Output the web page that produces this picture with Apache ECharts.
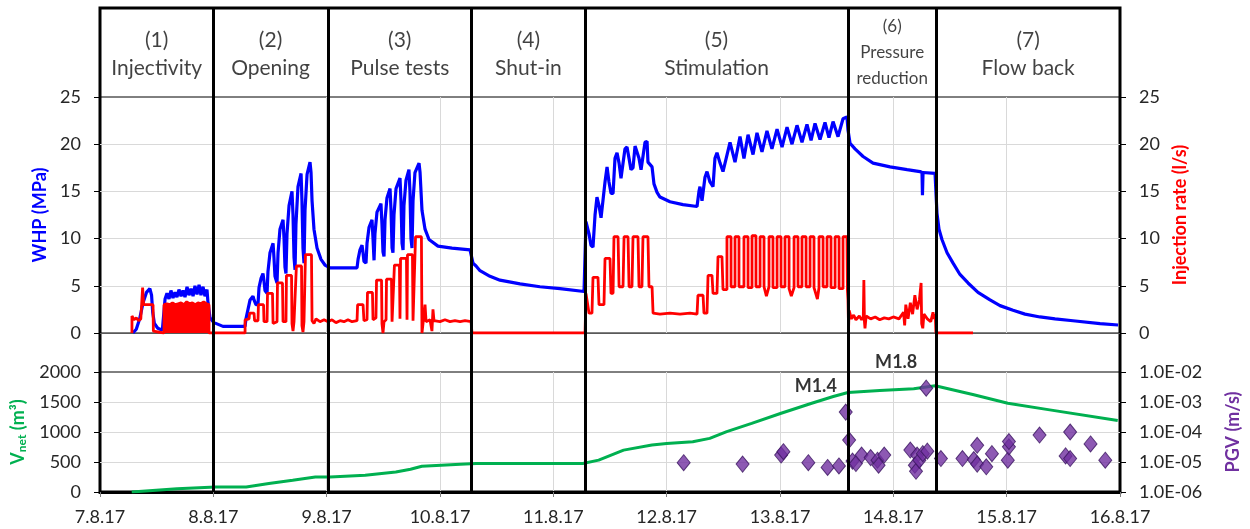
<!DOCTYPE html>
<html><head><meta charset="utf-8">
<script src="https://cdn.jsdelivr.net/npm/echarts@6/dist/echarts.min.js"></script>
<style>html,body{margin:0;padding:0;background:#fff}#c{width:1250px;height:529px}</style>
</head><body><div id="c"></div>
<script>
// x values are days after 7.8.17 00:00
const dateLabels = ['7.8.17','8.8.17','9.8.17','10.8.17','11.8.17','12.8.17','13.8.17','14.8.17','15.8.17','16.8.17'];
const phaseBounds = [1.0, 2.01, 3.28, 4.28, 6.60, 7.38];
const phaseNames = ['(1)\nInjectivity','(2)\nOpening','(3)\nPulse tests','(4)\nShut-in','(5)\nStimulation','(6)\nPressure\nreduction','(7)\nFlow back'];
const pgvTickLabels = {'-6':'1.0E-06','-5':'1.0E-05','-4':'1.0E-04','-3':'1.0E-03','-2':'1.0E-02'};

// Wellhead pressure (MPa)
const whp = [
[0.29,0.0],[0.32,0.4],[0.35,1.5],[0.38,3.2],[0.41,4.3],[0.44,4.7],[0.455,4.0],[0.465,2.2],[0.48,1.0],[0.51,0.5],[0.55,0.3],[0.565,0.4],
[0.574,3.6],[0.591,4.2],[0.609,3.6],[0.626,4.5],[0.644,3.7],[0.662,4.3],[0.679,3.8],[0.697,4.6],[0.715,3.9],[0.732,4.5],[0.750,3.8],[0.768,4.9],
[0.785,4.0],[0.803,4.7],[0.821,3.9],[0.838,5.0],[0.856,4.1],[0.874,5.1],[0.891,4.0],[0.909,4.9],[0.926,3.9],[0.944,4.6],[0.953,3.2],[0.971,1.6],
[1.006,1.1],[1.085,0.7],[1.28,0.7],
[1.288,1.5],[1.306,2.5],[1.324,3.5],[1.350,3.9],[1.359,3.5],[1.376,3.0],[1.394,3.0],[1.403,4.8],[1.421,5.8],[1.438,6.3],[1.447,5.5],[1.456,4.5],
[1.474,4.2],[1.482,6.5],[1.500,8.5],[1.527,9.5],[1.535,8.0],[1.544,6.0],[1.562,5.3],[1.571,8.5],[1.588,11.0],[1.615,12.0],[1.624,10.0],[1.632,7.0],
[1.641,6.3],[1.650,10.5],[1.668,13.5],[1.694,15.0],[1.703,12.5],[1.712,8.0],[1.721,6.7],[1.729,11.5],[1.747,15.5],[1.774,16.9],[1.782,14.0],
[1.791,9.0],[1.800,7.4],[1.809,13.0],[1.827,16.8],[1.853,18.1],[1.862,17.0],[1.871,14.0],[1.888,11.0],[1.915,9.0],[1.950,7.8],[1.985,7.2],
[2.030,6.9],[2.268,6.9],
[2.277,7.8],[2.294,8.8],[2.312,9.3],[2.321,8.5],[2.329,7.6],[2.347,7.4],[2.356,9.5],[2.374,11.2],[2.400,12.0],[2.409,10.0],[2.418,7.7],[2.426,10.5],
[2.444,12.8],[2.479,13.7],[2.488,11.5],[2.497,8.6],[2.506,8.1],[2.515,12.0],[2.532,14.3],[2.559,15.3],[2.568,13.0],[2.577,9.0],[2.585,8.5],
[2.594,12.5],[2.612,15.3],[2.647,16.4],[2.656,14.0],[2.665,9.5],[2.674,8.8],[2.682,13.5],[2.700,16.2],[2.726,17.3],[2.735,15.0],[2.744,10.0],
[2.753,9.0],[2.762,14.0],[2.779,17.0],[2.815,18.0],[2.824,17.0],[2.841,13.0],[2.868,11.0],[2.903,9.9],[2.982,9.2],[3.106,9.0],[3.265,8.8],[3.282,8.7],
[3.291,7.4],[3.318,7.1],[3.353,6.6],[3.441,6.0],[3.529,5.6],[3.706,5.2],[3.882,4.9],[4.059,4.7],[4.271,4.4],[4.280,4.4],
[4.288,11.8],[4.315,10.5],[4.332,9.3],[4.350,9.1],[4.368,12.5],[4.385,14.4],[4.403,13.5],[4.421,12.2],[4.438,12.2],[4.456,16.0],[4.474,17.6],
[4.491,16.0],[4.509,14.8],[4.527,14.8],[4.544,18.5],[4.562,19.1],[4.580,18.0],[4.597,16.4],[4.606,16.4],[4.632,19.5],[4.650,19.7],[4.668,18.5],
[4.685,17.3],[4.703,17.5],[4.721,19.8],[4.738,20.0],[4.756,18.5],[4.774,17.3],[4.791,17.5],[4.809,20.2],[4.827,20.3],[4.835,18.1],[4.871,17.6],
[4.888,15.8],[4.915,14.9],[4.941,14.4],[5.029,13.9],[5.144,13.6],[5.268,13.4],[5.285,15.0],[5.294,15.5],[5.312,14.0],[5.321,13.9],[5.338,16.5],
[5.356,17.1],[5.382,16.0],[5.409,15.5],[5.426,18.5],[5.444,19.1],[5.471,18.0],[5.497,17.1],[5.559,20.2],[5.603,18.1],[5.647,20.8],[5.682,18.5],
[5.718,21.0],[5.762,18.9],[5.797,21.2],[5.841,19.2],[5.885,21.4],[5.929,19.5],[5.974,21.6],[6.018,19.7],[6.062,21.8],[6.106,20.0],[6.150,22.0],
[6.194,20.2],[6.238,22.1],[6.274,20.4],[6.309,22.2],[6.353,20.5],[6.397,22.3],[6.432,20.7],[6.468,22.4],[6.512,20.8],[6.556,22.7],[6.591,22.9],
[6.600,21.5],[6.618,20.1],[6.662,19.5],[6.733,18.7],[6.821,18.0],[6.971,17.6],[7.121,17.3],[7.235,17.1],[7.253,17.0],[7.257,14.6],[7.262,17.0],
[7.368,16.9],[7.376,16.8],[7.385,12.7],[7.403,11.0],[7.429,9.9],[7.474,8.5],[7.527,7.4],[7.588,6.2],[7.659,5.3],[7.747,4.3],[7.853,3.5],
[7.941,2.9],[8.056,2.4],[8.162,2.0],[8.294,1.7],[8.427,1.5],[8.585,1.3],[8.824,1.0],[8.983,0.85]
];

// Injection rate (l/s)
const injRate = [
[0.282,0],[0.282,1.8],[0.30,1.4],[0.32,1.6],[0.34,1.3],[0.36,1.5],[0.371,1.5],[0.376,4.8],[0.382,4.8],[0.385,3.0],[0.468,3.0],[0.471,0.2],[0.485,0],[0.565,0],
[0.565,3.0],[0.962,3.0],[0.962,0],
[1.280,0],[1.280,1.4],[1.315,1.5],[1.320,2.1],[1.359,2.1],[1.364,1.3],[1.394,1.3],[1.398,3.0],[1.443,3.0],[1.447,1.2],[1.474,1.2],[1.478,4.2],[1.522,4.2],
[1.527,1.0],[1.544,0.8],[1.562,1.2],[1.566,5.3],[1.610,5.3],[1.615,1.2],[1.641,1.2],[1.645,6.1],[1.690,6.1],[1.694,1.0],[1.703,0.2],[1.712,1.2],
[1.729,1.2],[1.733,7.1],[1.778,7.1],[1.782,0.8],[1.791,0.1],[1.800,1.2],[1.809,1.2],[1.813,8.3],[1.866,8.3],[1.871,1.3],[1.888,1.0],[1.906,1.5],
[1.941,1.2],[1.977,1.4],[2.012,1.2],[2.047,1.4],[2.082,1.1],[2.118,1.3],[2.153,1.2],[2.188,1.4],[2.224,1.2],[2.268,1.3],[2.273,3.0],[2.321,3.0],
[2.329,1.3],[2.356,1.4],[2.360,4.3],[2.404,4.3],[2.409,1.4],[2.435,1.6],[2.440,5.6],[2.484,5.6],[2.488,1.0],[2.497,0.0],[2.506,1.2],[2.524,1.4],
[2.528,5.7],[2.572,5.7],[2.577,1.2],[2.594,1.3],[2.598,7.2],[2.642,7.2],[2.647,1.5],[2.652,7.9],[2.704,7.9],[2.709,1.4],[2.713,8.3],[2.757,8.3],
[2.762,1.3],[2.779,1.4],[2.784,10.2],[2.836,10.2],[2.841,0.0],[2.850,1.0],[2.868,3.0],[2.877,1.2],[2.912,1.4],[2.929,0.2],[2.938,2.5],[2.947,1.3],
[3.000,1.2],[3.044,1.4],[3.088,1.2],[3.132,1.3],[3.177,1.2],[3.221,1.3],[3.274,1.2],[3.282,0],[4.280,0],
[4.288,4.2],[4.297,3.5],[4.315,2.1],[4.341,2.1],[4.350,5.9],[4.394,5.9],[4.403,3.0],[4.447,3.0],[4.456,7.9],[4.500,7.9],[4.509,4.2],[4.527,4.2],
[4.535,10.2],[4.571,10.2],[4.580,4.9],[4.615,4.9],[4.624,10.2],[4.659,10.2],[4.668,4.9],[4.694,4.9],[4.703,10.2],[4.747,10.2],[4.756,4.9],[4.782,4.9],
[4.791,10.2],[4.835,10.2],[4.844,4.9],[4.871,4.9],[4.880,2.1],[4.941,2.0],[5.029,2.1],[5.118,2.0],[5.206,2.1],[5.268,2.0],[5.276,4.0],[5.321,4.0],
[5.329,2.1],[5.356,2.1],[5.365,6.1],[5.400,6.1],[5.409,4.2],[5.444,4.2],[5.453,8.1],[5.488,8.1],[5.497,4.6],[5.532,4.6],
[5.532,10.2],[5.568,10.2],[5.568,4.9],[5.603,4.9],[5.603,10.2],[5.638,10.2],[5.638,4.9],[5.682,4.9],[5.682,10.2],[5.718,10.2],[5.718,4.8],[5.753,4.8],
[5.753,10.3],[5.788,10.3],[5.788,4.9],[5.824,4.9],[5.824,10.2],[5.859,10.2],[5.859,4.9],[5.880,3.9],[5.903,4.9],[5.903,10.2],[5.938,10.2],[5.938,4.8],[5.974,4.8],
[5.974,10.2],[6.009,10.2],[6.009,4.9],[6.044,4.9],[6.044,10.2],[6.080,10.2],[6.080,4.7],[6.100,3.9],[6.124,4.8],[6.124,10.2],[6.159,10.2],[6.159,4.9],[6.194,4.9],
[6.194,10.2],[6.230,10.2],[6.230,4.9],[6.265,4.9],[6.265,10.2],[6.300,10.2],[6.300,4.8],[6.330,3.6],[6.344,4.8],[6.344,10.2],[6.380,10.2],[6.380,4.9],[6.415,4.9],
[6.415,10.2],[6.450,10.2],[6.450,4.8],[6.486,4.8],[6.486,10.2],[6.521,10.2],[6.521,4.7],[6.556,4.7],[6.556,10.2],[6.591,10.2],
[6.595,4.5],[6.600,3.5],[6.605,0.5],[6.610,2.4],[6.630,1.5],[6.650,1.9],[6.670,1.4],[6.700,1.8],[6.720,1.4],[6.735,1.7],[6.740,5.6],[6.745,1.2],
[6.750,0.5],[6.760,1.8],[6.800,1.5],[6.840,1.7],[6.880,1.4],[6.920,1.6],[6.960,1.5],[7.000,1.7],[7.050,1.5],[7.090,2.2],[7.100,0.8],[7.110,3.0],
[7.130,1.5],[7.150,3.2],[7.170,2.0],[7.190,4.0],[7.210,2.5],[7.230,3.5],[7.245,5.3],[7.250,1.0],[7.260,0.5],[7.270,2.0],[7.300,1.5],[7.330,1.2],
[7.350,2.2],[7.360,1.5],[7.370,2.0],[7.376,0],[7.703,0]
];
// Upper envelope of the rapid injectivity pulses (filled block)
const injPulseBlock = [
[0.565,3.0],[0.590,3.1],[0.615,3.0],[0.640,3.2],[0.665,3.0],[0.690,3.1],[0.715,3.2],[0.740,3.0],[0.765,3.3],[0.790,3.1],[0.815,3.2],
[0.840,3.0],[0.865,3.2],[0.890,3.1],[0.915,3.3],[0.940,3.1],[0.962,3.0]
];

// Net injected volume (m3)
const vnet = [
[0.28,0],[0.68,56],[1.02,84],[1.29,84],[1.49,140],[1.70,196],[1.90,251],[2.03,251],[2.34,280],[2.61,335],[2.74,380],[2.84,430],[3.01,447],
[3.18,464],[3.32,475],[4.26,475],[4.40,531],[4.62,698],[4.87,782],[5.00,810],[5.23,838],[5.38,894],[5.53,1006],[5.75,1145],[6.01,1313],
[6.28,1480],[6.47,1592],[6.60,1659],[6.88,1693],[7.18,1721],[7.37,1771],[7.71,1620],[8.01,1480],[8.38,1369],[8.98,1190]
];

// Peak ground velocity (m/s)
const pgv = [
[5.15,9.5e-6],[5.67,8.5e-6],[6.01,1.7e-5],[6.03,2.2e-5],[6.25,9.5e-6],[6.42,6.6e-6],[6.52,7.4e-6],[6.58,4.6e-4],[6.61,5.4e-5],[6.64,1.07e-5],
[6.67,8.9e-6],[6.72,1.7e-5],[6.80,1.4e-5],[6.86,1.15e-5],[6.87,7.8e-6],[6.92,1.7e-5],[7.15,2.5e-5],[7.21,1.7e-5],[7.19,7.8e-6],[7.20,4.9e-6],
[7.23,1.15e-5],[7.26,1.9e-5],[7.30,2.3e-5],[7.29,2.9e-3],[7.42,1.3e-5],[7.61,1.3e-5],[7.71,1.2e-5],[7.74,3.6e-5],[7.74,8.5e-6],[7.82,6.9e-6],
[7.87,1.9e-5],[8.01,1.15e-5],[8.02,3.2e-5],[8.02,4.8e-5],[8.29,7.9e-5],[8.52,1.6e-5],[8.56,1.3e-5],[8.56,1.0e-4],[8.74,4.0e-5],[8.87,1.15e-5]
];
const magnitudeLabels = [{x:6.58, pgv:4.6e-4, text:'M1.4'},{x:7.29, pgv:2.9e-3, text:'M1.8'}];

const FONT = 'Lato, "Open Sans", sans-serif';
const chart = echarts.init(document.getElementById('c'), null, {renderer:'canvas'});

const phaseCenters = phaseNames.map((n,i)=>{
  const a = i===0 ? 0 : phaseBounds[i-1];
  const b = i===phaseBounds.length ? 9 : phaseBounds[i];
  return (a+b)/2;
});

const gridLineStyle = {color:'#D9D9D9', width:1};
const tickLabel = {fontSize:18, color:'#262626', fontFamily:FONT};

const option = {
  animation:false,
  backgroundColor:'#fff',
  textStyle:{fontFamily:FONT},
  grid:[
    {left:100, right:130, top:97, height:236, show:true, borderColor:'#000', borderWidth:1},
    {left:100, right:130, top:372, height:120, show:true, borderColor:'#000', borderWidth:1},
    {left:100, right:130, top:8, height:484, show:true, borderColor:'#000', borderWidth:3, backgroundColor:'transparent'}
  ],
  xAxis:[
    {gridIndex:0, type:'value', min:0, max:9, interval:1,
      axisLabel:{show:false}, axisTick:{show:false},
      axisLine:{show:true, lineStyle:{color:'#595959', width:1}},
      splitLine:{show:true, lineStyle:gridLineStyle, showMinLine:false, showMaxLine:false}},
    {gridIndex:1, type:'value', min:0, max:9, interval:1,
      axisLabel:Object.assign({formatter:v=>dateLabels[Math.round(v)], margin:16}, tickLabel),
      axisTick:{show:true, length:5, lineStyle:{color:'#7f7f7f'}},
      axisLine:{show:true, lineStyle:{color:'#000', width:3}},
      splitLine:{show:true, lineStyle:gridLineStyle, showMinLine:false, showMaxLine:false}},
    {gridIndex:2, type:'value', min:0, max:9, show:false}
  ],
  yAxis:[
    {gridIndex:0, type:'value', min:0, max:25, interval:5, position:'left',
      axisLine:{show:false}, axisTick:{show:true, length:6, lineStyle:{color:'#000'}},
      axisLabel:Object.assign({margin:19}, tickLabel),
      splitLine:{show:true, lineStyle:gridLineStyle, showMinLine:false, showMaxLine:false},
      name:'WHP (MPa)', nameLocation:'middle', nameGap:45,
      nameTextStyle:{color:'#0000FF', fontWeight:'bold', fontSize:18, fontFamily:FONT}},
    {gridIndex:0, type:'value', min:0, max:25, interval:5, position:'right',
      axisLine:{show:false}, axisTick:{show:true, length:6, lineStyle:{color:'#000'}},
      axisLabel:Object.assign({margin:19}, tickLabel),
      splitLine:{show:false},
      name:'Injection rate (l/s)', nameLocation:'middle', nameGap:49,
      nameTextStyle:{color:'#FF0000', fontWeight:'bold', fontSize:18, fontFamily:FONT}},
    {gridIndex:1, type:'value', min:0, max:2000, interval:500, position:'left',
      axisLine:{show:false}, axisTick:{show:true, length:6, lineStyle:{color:'#000'}},
      axisLabel:Object.assign({margin:19, formatter:v=>String(v)}, tickLabel),
      splitLine:{show:true, lineStyle:gridLineStyle, showMinLine:false, showMaxLine:false},
      name:'{v|V}{s|net}{v| (m³)}', nameLocation:'middle', nameGap:68,
      nameTextStyle:{rich:{
        v:{color:'#00B050', fontWeight:'bold', fontSize:18, fontFamily:FONT},
        s:{color:'#00B050', fontWeight:'bold', fontSize:12, fontFamily:FONT, padding:[8,0,0,0]}
      }}},
    {gridIndex:1, type:'log', logBase:10, min:1e-6, max:1e-2, position:'right',
      axisLine:{show:false}, axisTick:{show:true, length:6, lineStyle:{color:'#000'}},
      axisLabel:Object.assign({margin:19, formatter:v=>pgvTickLabels[String(Math.round(Math.log10(v)))]||''}, tickLabel),
      splitLine:{show:false}, minorTick:{show:false},
      name:'PGV (m/s)', nameLocation:'middle', nameGap:104,
      nameTextStyle:{color:'#7030A0', fontWeight:'bold', fontSize:18, fontFamily:FONT}},
    {gridIndex:2, type:'value', min:0, max:1, show:false}
  ],
  series:[
    {name:'WHP', type:'line', xAxisIndex:0, yAxisIndex:0, data:whp, showSymbol:false,
      lineStyle:{color:'#0000FF', width:3.2}, itemStyle:{color:'#0000FF'}, z:3},
    {name:'Injection rate', type:'line', xAxisIndex:0, yAxisIndex:1, data:injRate, showSymbol:false,
      lineStyle:{color:'#FF0000', width:2.8}, itemStyle:{color:'#FF0000'}, z:4},
    {name:'Injection rate pulses', type:'line', xAxisIndex:0, yAxisIndex:1, data:injPulseBlock, showSymbol:false,
      lineStyle:{color:'#FF0000', width:2.8}, itemStyle:{color:'#FF0000'},
      areaStyle:{color:'#FF0000', opacity:1}, z:4},
    {name:'Vnet', type:'line', xAxisIndex:1, yAxisIndex:2, data:vnet, showSymbol:false,
      lineStyle:{color:'#00B050', width:3}, itemStyle:{color:'#00B050'}, z:3},
    {name:'PGV', type:'scatter', xAxisIndex:1, yAxisIndex:3, data:pgv, symbol:'diamond', symbolSize:[13,16],
      itemStyle:{color:'#7030A0', borderColor:'#3b1760', borderWidth:1}, z:4},
    {name:'Magnitudes', type:'scatter', xAxisIndex:1, yAxisIndex:3, symbolSize:0,
      data:magnitudeLabels.map(m=>({value:[m.x, m.pgv], name:m.text})),
      label:{show:true, position:'inside', offset:[-30,-26], formatter:p=>p.name,
        fontSize:18, fontWeight:'bold', color:'#000', fontFamily:FONT}, z:6},
    {name:'Phases', type:'scatter', xAxisIndex:2, yAxisIndex:4, symbolSize:0,
      data:phaseNames.map((n,i)=>{
        const multi = n.split('\n').length>2;
        const item = {value:[phaseCenters[i], multi ? 0.909 : 0.904], name:n};
        if (multi) item.label = {fontSize:17, lineHeight:26};
        return item;
      }),
      label:{show:true, position:'inside', formatter:p=>p.name, fontSize:21, lineHeight:28,
        color:'#111', fontFamily:FONT, align:'center', verticalAlign:'middle'},
      markLine:{silent:true, symbol:['none','none'], animation:false,
        label:{show:false}, lineStyle:{color:'#000', width:3, type:'solid'},
        data:phaseBounds.map(b=>({xAxis:b}))},
      z:6}
  ]
};
chart.setOption(option);
</script></body></html>
